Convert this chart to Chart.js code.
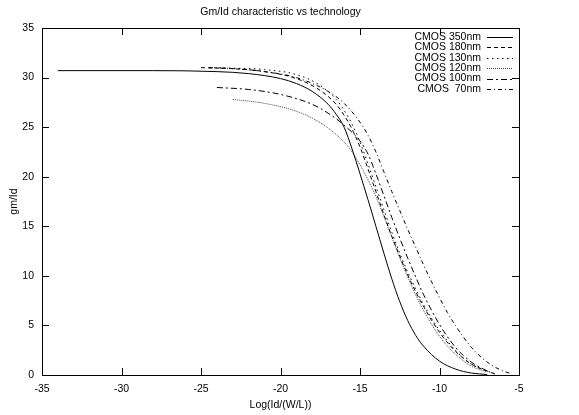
<!DOCTYPE html>
<html>
<head>
<meta charset="utf-8">
<script src="https://cdn.jsdelivr.net/npm/chart.js@4/dist/chart.umd.min.js"></script>
<style>
  html, body { margin: 0; padding: 0; background: #fff; }
  #wrap { width: 579px; height: 415px; }
</style>
</head>
<body>
<div id="wrap"><canvas id="chart" width="579" height="415"></canvas></div>
<script>
let title = "Gm/Id characteristic vs technology";
let x_label = "Log(Id/(W/L))";
let y_label = "gm/Id";

let tech_names = ["CMOS 350nm", "CMOS 180nm", "CMOS 130nm", "CMOS 120nm", "CMOS 100nm", "CMOS  70nm"];

// log(Id/(W/L)) sample points and gm/Id for each process
let x_350 = [-34, -28, -24, -22, -20, -19, -18, -17, -16.5, -16, -15.5, -15, -14.5, -14, -13.5, -13, -12.5, -12, -11.5, -11, -10, -9, -8, -7];
let y_350 = [30.7, 30.7, 30.6, 30.4, 29.9, 29.4, 28.6, 27.3, 26.3, 25.0, 22.8, 20.3, 17.7, 15.0, 12.3, 9.7, 7.4, 5.5, 4.0, 2.9, 1.4, 0.6, 0.2, 0.05];

let x_180 = [-25, -23, -21, -19, -17.5, -16.5, -16, -15.5, -15, -14.5, -14, -13.5, -13, -12.5, -12, -11.5, -11, -10, -9, -8, -7, -6.5];
let y_180 = [31.0, 30.9, 30.6, 29.9, 28.7, 27.3, 26.2, 24.8, 23.0, 20.8, 18.5, 16.2, 14.0, 12.0, 10.1, 8.4, 6.9, 4.3, 2.4, 1.1, 0.4, 0.1];

let x_130 = [-24.5, -23, -21, -19, -17.5, -16.5, -16, -15.5, -15, -14.5, -14, -13.5, -13, -12.5, -12, -11.5, -11, -10, -9, -8, -7, -6.5];
let y_130 = [31.0, 30.95, 30.8, 30.3, 29.2, 27.8, 26.7, 25.3, 23.5, 21.3, 19.0, 16.7, 14.4, 12.3, 10.4, 8.7, 7.1, 4.5, 2.5, 1.1, 0.4, 0.1];

let x_120 = [-23, -21, -19, -18, -17, -16, -15.5, -15, -14.5, -14, -13.5, -13, -12.5, -12, -11.5, -11, -10, -9, -8, -7];
let y_120 = [27.8, 27.4, 26.6, 25.9, 24.9, 23.5, 22.5, 21.2, 19.7, 18.0, 16.0, 13.9, 11.8, 9.9, 8.1, 6.5, 3.9, 2.1, 0.9, 0.3];

let x_100 = [-24, -22, -20, -18, -17, -16, -15, -14.5, -14, -13.5, -13, -12.5, -12, -11.5, -11, -10, -9, -8, -7];
let y_100 = [29.0, 28.8, 28.3, 27.3, 26.4, 25.2, 23.6, 22.3, 20.3, 18.1, 15.9, 13.8, 11.8, 9.9, 8.1, 5.1, 2.8, 1.3, 0.4];

let x_70 = [-24.5, -23, -21, -19, -17, -16, -15, -14.5, -14, -13.5, -13, -12.5, -12, -11.5, -11, -10.5, -10, -9.5, -9, -8, -7, -6, -5.5];
let y_70 = [31.0, 30.9, 30.6, 30.0, 28.6, 27.4, 25.5, 24.2, 22.5, 20.5, 18.5, 16.6, 14.7, 12.9, 11.1, 9.4, 7.8, 6.3, 5.0, 2.8, 1.3, 0.4, 0.15];

let x_ticks = [-35, -30, -25, -20, -15, -10, -5];
let y_ticks = [0, 5, 10, 15, 20, 25, 30, 35];

let line_styles = [
  { color: "#000", dash: [] },
  { color: "#000", dash: [4, 3] },
  { color: "#000", dash: [1.5, 3.5] },
  { color: "#444", dash: [1, 1] },
  { color: "#000", dash: [6, 3, 2, 3] },
  { color: "#000", dash: [4, 3, 1, 3] },
];

function points(xs, ys) {
  let out = [];
  for (let i = 0; i < xs.length; i++) {
    out.push({ x: xs[i], y: ys[i] });
  }
  return out;
}

let series = [
  points(x_350, y_350),
  points(x_180, y_180),
  points(x_130, y_130),
  points(x_120, y_120),
  points(x_100, y_100),
  points(x_70, y_70),
];

let datasets = [];
for (let i = 0; i < series.length; i++) {
  datasets.push({
    label: tech_names[i],
    data: series[i],
    borderColor: line_styles[i].color,
    borderDash: line_styles[i].dash,
    borderWidth: 1,
    pointRadius: 0,
    fill: false,
    cubicInterpolationMode: "monotone",
  });
}

let font_family = "'Liberation Sans', Arial, Helvetica, sans-serif";
let font_size = 10.5;

// box, inward ticks on all four sides, title and the legend in the top right corner
let frame_plugin = {
  id: "frame",
  afterDraw(chart) {
    let ctx = chart.ctx;
    let area = chart.chartArea;
    let sx = chart.scales.x;
    let sy = chart.scales.y;
    let tick_len = 7;

    ctx.save();
    ctx.strokeStyle = "#000";
    ctx.lineWidth = 1;
    ctx.setLineDash([]);
    ctx.strokeRect(area.left + 0.5, area.top + 0.5, area.right - area.left, area.bottom - area.top);

    ctx.beginPath();
    for (let v of x_ticks) {
      let px = Math.round(sx.getPixelForValue(v)) + 0.5;
      ctx.moveTo(px, area.bottom);
      ctx.lineTo(px, area.bottom - tick_len);
      ctx.moveTo(px, area.top);
      ctx.lineTo(px, area.top + tick_len);
    }
    for (let v of y_ticks) {
      let py = Math.round(sy.getPixelForValue(v)) + 0.5;
      ctx.moveTo(area.left, py);
      ctx.lineTo(area.left + tick_len, py);
      ctx.moveTo(area.right, py);
      ctx.lineTo(area.right - tick_len, py);
    }
    ctx.stroke();

    ctx.fillStyle = "#000";
    ctx.font = font_size + "px " + font_family;
    ctx.textAlign = "center";
    ctx.textBaseline = "middle";
    ctx.fillText(title, (area.left + area.right) / 2, 12);

    // legend: right-aligned names, line sample to the right
    ctx.textAlign = "right";
    let text_right = area.right - 38;
    for (let i = 0; i < tech_names.length; i++) {
      let y = area.top + 9 + i * 10.4;
      ctx.fillStyle = "#000";
      ctx.fillText(tech_names[i], text_right, y);
      ctx.beginPath();
      ctx.strokeStyle = line_styles[i].color;
      ctx.setLineDash(line_styles[i].dash);
      ctx.moveTo(text_right + 6, Math.round(y) + 0.5);
      ctx.lineTo(text_right + 32, Math.round(y) + 0.5);
      ctx.stroke();
    }
    ctx.restore();
  },
};

let config = {
  type: "line",
  data: { datasets: datasets },
  options: {
    responsive: false,
    animation: false,
    layout: {
      autoPadding: false,
      padding: { top: 28, right: 60, bottom: 0, left: 0 },
    },
    plugins: {
      legend: { display: false },
      title: { display: false },
      tooltip: { enabled: false },
    },
    scales: {
      x: {
        type: "linear",
        min: -35,
        max: -5,
        afterFit: (scale) => {
          scale.height = 40;
        },
        afterBuildTicks: (scale) => {
          scale.ticks = x_ticks.map((v) => ({ value: v }));
        },
        grid: { display: false, drawTicks: false },
        border: { display: false },
        ticks: {
          color: "#000",
          padding: 8,
          maxRotation: 0,
          font: { family: font_family, size: font_size },
        },
        title: {
          display: true,
          text: x_label,
          color: "#000",
          padding: { top: 0, bottom: 4 },
          font: { family: font_family, size: font_size },
        },
      },
      y: {
        type: "linear",
        min: 0,
        max: 35,
        afterFit: (scale) => {
          scale.width = 42;
        },
        afterBuildTicks: (scale) => {
          scale.ticks = y_ticks.map((v) => ({ value: v }));
        },
        grid: { display: false, drawTicks: false },
        border: { display: false },
        ticks: {
          color: "#000",
          padding: 8,
          font: { family: font_family, size: font_size },
        },
        title: {
          display: true,
          text: y_label,
          color: "#000",
          padding: { top: 8, bottom: 0 },
          font: { family: font_family, size: font_size },
        },
      },
    },
  },
  plugins: [frame_plugin],
};

let chart = new Chart(document.getElementById("chart"), config);
</script>
</body>
</html>
